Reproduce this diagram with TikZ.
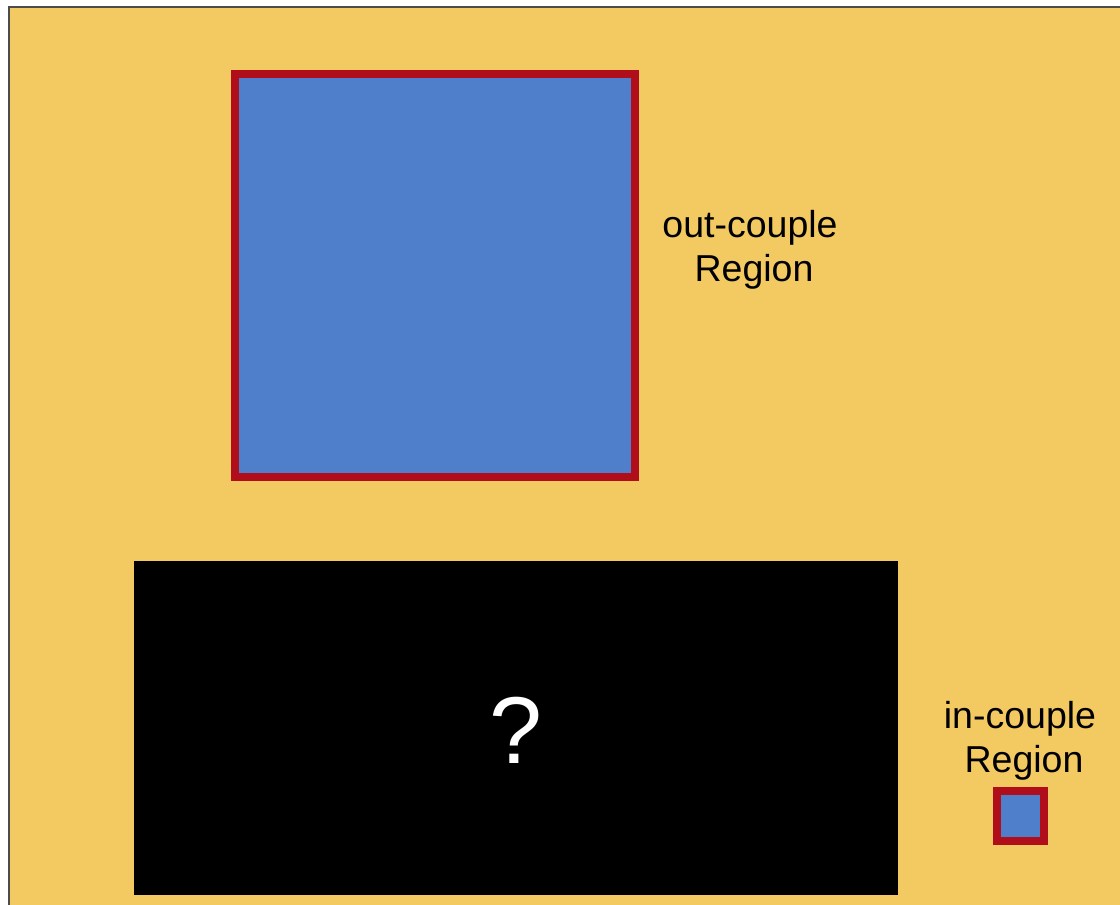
\documentclass[tikz,border=0pt]{standalone}
\usepackage{fontspec}
\setmainfont{Liberation Sans}
\definecolor{bgyellow}{HTML}{F3C962}
\definecolor{boxblue}{HTML}{4F7FCA}
\definecolor{boxred}{HTML}{B00E1A}
\tikzset{
  region/.style={draw=boxred, fill=boxblue, line width=8pt, inner sep=0pt, outer sep=0pt},
  label/.style={align=center, inner sep=0pt, font=\fontsize{37.5}{44}\selectfont}
}
\begin{document}
\begin{tikzpicture}[x=1pt,y=1pt]
\useasboundingbox (0,0) rectangle (1120,-905);
\fill[white] (0,0) rectangle (1120,-905);
\draw[fill=bgyellow, draw=black!70, line width=2pt] (9,-7) rectangle (1125,-912);
\node[region, minimum width=400pt, minimum height=403pt] (out) at (435,-275.5) {};
\node[region, minimum width=47.5pt, minimum height=50pt] (in) at (1020.25,-816) {};
\node[fill=black, inner sep=0pt, minimum width=764pt, minimum height=334pt] (black) at (516,-728) {};
\node[text=white, inner sep=0pt, font=\fontsize{95}{110}\selectfont] (q) at (516,-730) {?};
\node[label] (outlbl) at (750,-250) {out-couple\\\hspace*{8pt}Region};
\node[label] (inlbl) at (1020,-741) {in-couple\\\hspace*{8pt}Region};
\end{tikzpicture}
\end{document}
